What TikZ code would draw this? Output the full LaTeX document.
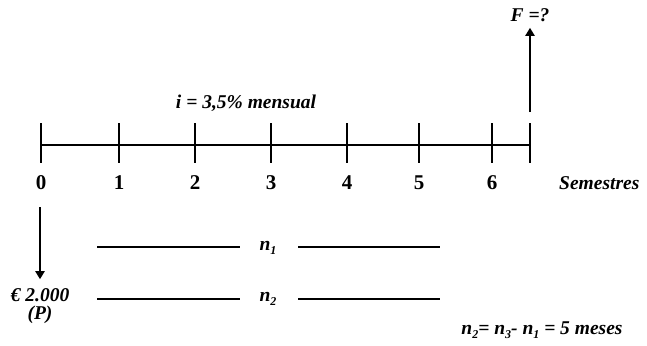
\documentclass[tikz,border=0pt]{standalone}
\usepackage{fontspec}
\setmainfont{Liberation Serif}
\usetikzlibrary{arrows.meta,positioning}
\newcommand{\lowsub}[1]{\raisebox{-0.45ex}{\fontsize{12}{12}\selectfont #1}}
\tikzset{
  axisline/.style={line width=2.8pt},
  tickmark/.style={line width=2.8pt},
  period/.style={font=\fontsize{21}{21}\selectfont\bfseries, inner sep=1pt},
  tag/.style={font=\fontsize{19.5}{18}\selectfont\bfseries\itshape, inner sep=1pt, align=center},
  cash/.style={-{Triangle[length=8pt,width=9pt]}, line width=2pt},
  span/.style={line width=2.6pt},
}

\begin{document}
\begin{tikzpicture}[x=1pt, y=-1pt]
  \useasboundingbox (0,0) rectangle (647,345);
  % time line
  \foreach \n/\x in {0/41,1/119,2/195,3/271,4/347,5/419,6/492}{
    \coordinate (t\n) at (\x,145);
    \draw[tickmark] (\x,123) -- (\x,163);
    \node[period] (p\n) at (\x,183) {\n};
  }
  \coordinate (tend) at (530,145);
  \draw[tickmark] (530,123) -- (530,163);
  \draw[axisline] (t0) -- (tend);
  \node[tag] (rate) at (246,103) {i = 3,5\% mensual};
  \node[tag, anchor=west] (unit) at (558,183) {Semestres};
  % cash flows
  \coordinate (fbase) at (530,112);
  \node[tag] (future) at (530,15) {F =?};
  \draw[cash, shorten >=5pt] (fbase) -- (future.south);
  \coordinate (pbase) at (40,207);
  \node[tag] (present) at (40,306) {€ 2.000\\(P)};
  \draw[cash, shorten >=8pt] (pbase) -- (present.north);
  % periods
  \node[tag] (n1) at (268,248) {n\lowsub{1}};
  \node[tag] (n2) at (268,299) {n\lowsub{2}};
  \coordinate (a1) at (97,247);  \coordinate (c1) at (240,247);
  \coordinate (d1) at (298,247); \coordinate (b1) at (440,247);
  \coordinate (a2) at (97,299);  \coordinate (c2) at (240,299);
  \coordinate (d2) at (298,299); \coordinate (b2) at (440,299);
  \draw[span] (a1) -- (c1);  \draw[span] (d1) -- (b1);
  \draw[span] (a2) -- (c2);  \draw[span] (d2) -- (b2);
  \node[tag] (total) at (542,330) {n\lowsub{2}= n\lowsub{3}- n\lowsub{1} = 5 meses};
\end{tikzpicture}
\end{document}
